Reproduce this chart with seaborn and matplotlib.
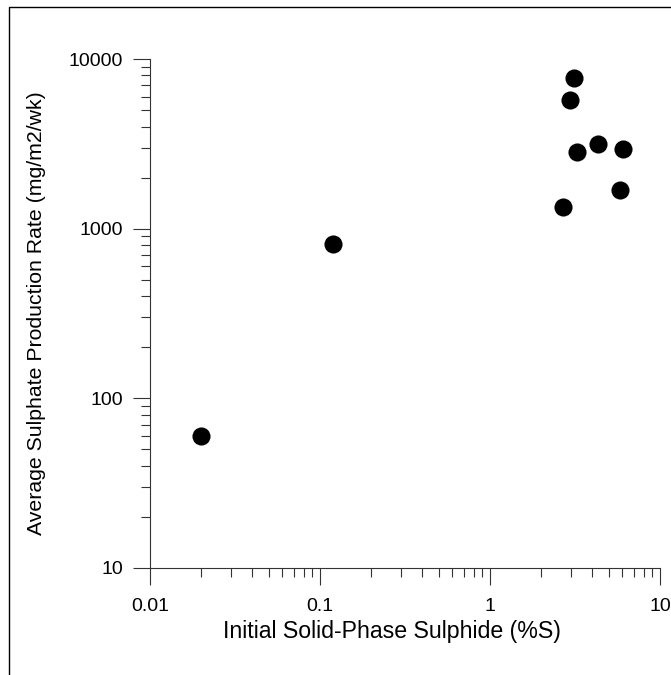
import matplotlib
matplotlib.use("Agg")
import matplotlib.pyplot as plt
import matplotlib.patches as mpatches
from matplotlib.ticker import LogLocator, FixedLocator, FixedFormatter, NullFormatter
import seaborn as sns
import pandas as pd

sns.set_style("white")
plt.rcParams['font.family'] = ['Liberation Sans', 'DejaVu Sans']
plt.rcParams['text.color'] = 'black'
plt.rcParams['axes.labelcolor'] = 'black'

# Data
sulphide_pct = [0.02, 0.12, 3.13, 2.94, 3.25, 4.31, 6.05, 5.82, 2.69]
production_rate = [60, 810, 7750, 5700, 2820, 3140, 2950, 1680, 1345]
x_ticks = [0.01, 0.1, 1, 10]
x_labels = ["0.01", "0.1", "1", "10"]
y_ticks = [10, 100, 1000, 10000]
y_labels = ["10", "100", "1000", "10000"]

df = pd.DataFrame({"x": sulphide_pct, "y": production_rate})

fig = plt.figure(figsize=(6.71, 6.75), dpi=100)
ax = fig.add_axes([150/671, 1 - 568/675, 510/671, 509/675])

sns.scatterplot(data=df, x="x", y="y", ax=ax, color="black", s=170,
                edgecolor="black", linewidth=0, legend=False, clip_on=False, zorder=3)

ax.set_xscale("log")
ax.set_yscale("log")
ax.set_xlim(0.01, 10)
ax.set_ylim(10, 10000)

ax.xaxis.set_major_locator(FixedLocator(x_ticks))
ax.xaxis.set_major_formatter(FixedFormatter(x_labels))
ax.yaxis.set_major_locator(FixedLocator(y_ticks))
ax.yaxis.set_major_formatter(FixedFormatter(y_labels))
ax.xaxis.set_minor_locator(LogLocator(base=10, subs=range(2, 10)))
ax.yaxis.set_minor_locator(LogLocator(base=10, subs=range(2, 10)))
ax.xaxis.set_minor_formatter(NullFormatter())
ax.yaxis.set_minor_formatter(NullFormatter())

ax.tick_params(which="both", bottom=True, left=True, top=False, right=False)
ax.tick_params(which="major", direction="out", length=12.5, width=0.8,
               color="#333333", labelsize=14, labelcolor="black")
ax.tick_params(axis="y", which="major", pad=7)
ax.tick_params(axis="x", which="major", pad=9)
ax.tick_params(which="minor", direction="out", length=6.5, width=0.8, color="#333333")

for side in ["top", "right"]:
    ax.spines[side].set_visible(False)
for side in ["left", "bottom"]:
    ax.spines[side].set_color("#333333")
    ax.spines[side].set_linewidth(0.8)

ax.set_xlabel("Initial Solid-Phase Sulphide (%S)", fontsize=16.7, labelpad=6, color="black")
ax.set_ylabel("Average Sulphate Production Rate (mg/m2/wk)", fontsize=15.3, labelpad=16, color="black")
ax.xaxis.set_label_coords((391.5 - 150) / 510, -0.102)

# Outer frame (partially cropped)
frame = mpatches.Rectangle((9/671, -0.1), 1.2, 1 - 7/675 + 0.1, transform=fig.transFigure,
                           fill=False, edgecolor="black", linewidth=1.0, clip_on=False)
fig.patches.append(frame)

fig.savefig("out.png", dpi=100)
